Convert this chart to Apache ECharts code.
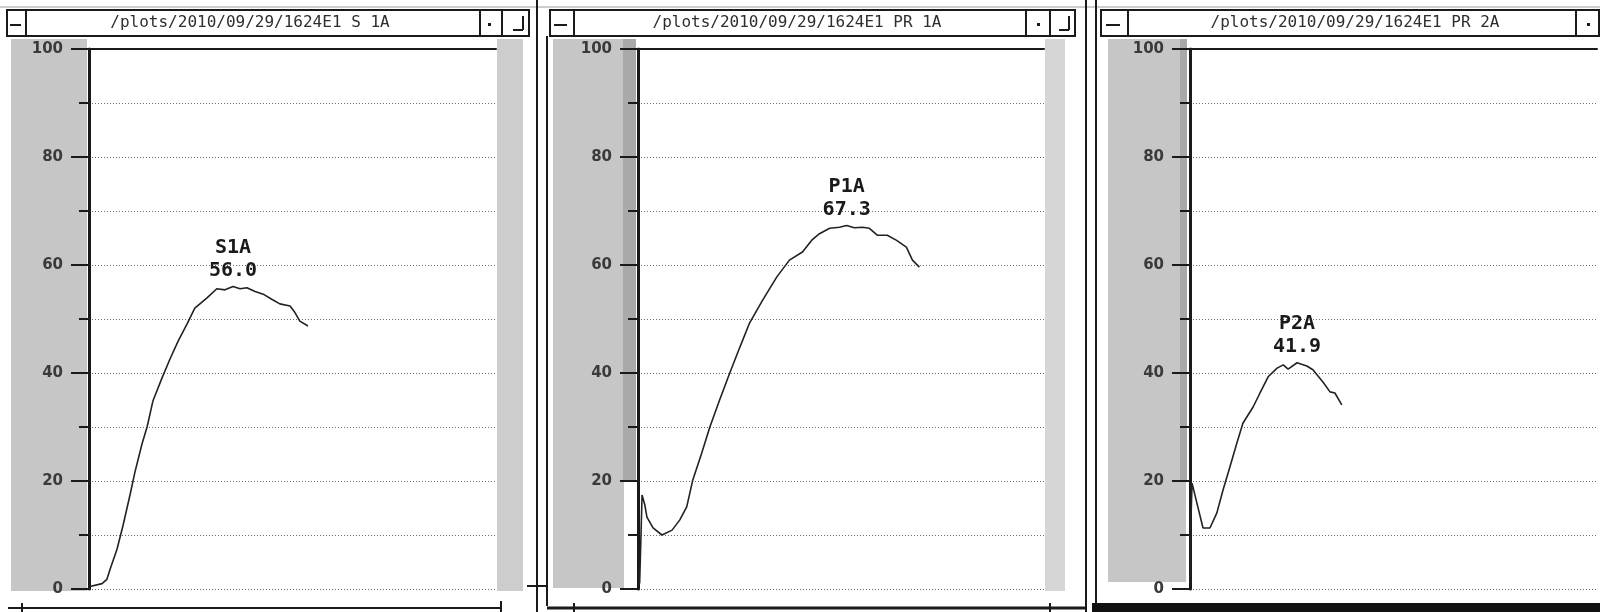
<!DOCTYPE html>
<html>
<head>
<meta charset="utf-8">
<script src="https://cdn.jsdelivr.net/npm/echarts@6/dist/echarts.min.js"></script>
<style>
html,body{margin:0;padding:0;background:#fff;}
#chart{width:1600px;height:612px;}
</style>
</head>
<body>
<div id="chart"></div>
<script>
// ---- data (x: relative sample position 0-100 across each plot, y: value 0-100) ----
const windowTitles = ['/plots/2010/09/29/1624E1 S 1A', '/plots/2010/09/29/1624E1 PR 1A', '/plots/2010/09/29/1624E1 PR 2A'];
const peakNames = ['S1A', 'P1A', 'P2A'];
const yTicks = [0, 20, 40, 60, 80, 100];

const s1aX = [0.0, 3.2, 4.4, 5.2, 6.9, 8.4, 10.1, 11.3, 13.0, 14.3, 15.7, 17.9, 19.9, 21.9, 24.1, 26.0, 29.0, 31.4, 33.4, 35.4, 37.1, 38.8, 40.8, 42.8, 45.0, 46.9, 49.4, 50.6, 51.8, 53.8];
const s1aY = [0.4, 1.0, 1.8, 3.7, 7.4, 11.9, 17.5, 21.7, 26.8, 30.1, 34.8, 39.0, 42.6, 45.9, 49.1, 52.0, 53.9, 55.6, 55.4, 56.0, 55.6, 55.8, 55.1, 54.6, 53.6, 52.8, 52.4, 51.2, 49.6, 48.7];

const p1aX = [0.4, 0.7, 1.0, 1.7, 2.2, 3.7, 5.9, 8.4, 10.3, 12.0, 13.5, 15.7, 17.7, 20.1, 22.6, 25.1, 27.5, 30.7, 34.2, 37.3, 40.5, 42.8, 44.7, 47.2, 49.6, 51.4, 53.3, 55.3, 57.0, 59.0, 61.4, 63.6, 66.1, 67.6, 69.3];
const p1aY = [1.0, 9.0, 17.4, 15.5, 13.3, 11.3, 10.0, 10.9, 12.8, 15.2, 20.2, 25.2, 30.0, 35.0, 40.0, 44.8, 49.3, 53.5, 57.8, 60.9, 62.4, 64.6, 65.8, 66.8, 67.0, 67.3, 66.9, 67.0, 66.8, 65.5, 65.5, 64.6, 63.3, 60.9, 59.6];

const p2aX = [0.0, 0.2, 0.5, 1.7, 3.2, 4.9, 6.6, 8.1, 9.8, 11.5, 13.0, 15.5, 17.2, 19.2, 21.4, 22.9, 24.1, 26.3, 28.7, 30.2, 32.7, 34.4, 35.6, 37.3];
const p2aY = [1.0, 12.0, 19.6, 15.9, 11.3, 11.3, 14.1, 18.3, 22.6, 27.0, 30.7, 33.7, 36.3, 39.3, 40.9, 41.5, 40.7, 41.9, 41.3, 40.6, 38.3, 36.5, 36.3, 34.1];

const seriesX = [s1aX, p1aX, p2aX];
const seriesY = [s1aY, p1aY, p2aY];

// ---- layout ----
const grids = [
  {left: 89, top: 49, width: 407, height: 540},
  {left: 638, top: 49, width: 406, height: 540},
  {left: 1190, top: 49, width: 407, height: 540}
];

const INK = '#1a1a1a';
const GRAYBAND = '#c6c6c6';

function ln(x1, y1, x2, y2, w, c) {
  return {type: 'line', silent: true, z: 1, shape: {x1, y1, x2, y2}, style: {stroke: c || INK, lineWidth: w || 2}};
}
function rc(x, y, w, h, fill, z) {
  return {type: 'rect', silent: true, z: z === undefined ? -1 : z, shape: {x, y, width: w, height: h}, style: {fill: fill}};
}
function frameRect(x, y, w, h, lw) {
  return {type: 'rect', silent: true, z: 1, shape: {x, y, width: w, height: h}, style: {fill: 'none', stroke: INK, lineWidth: lw || 2}};
}
function txt(x, y, s, font, color) {
  return {type: 'text', silent: true, z: 2, x: x, y: y,
    style: {text: s, font: font, fill: color || '#333', align: 'center', verticalAlign: 'middle', textAlign: 'center', textVerticalAlign: 'middle'}};
}

const graphics = [];
// title bars
const bars = [
  {x1: 7, x2: 529, seps: [26, 480, 502], title: 250, minus: [10, 21], dot: 489, corner: [513, 523]},
  {x1: 550, x2: 1075, seps: [574, 1026, 1050], title: 797, minus: [554, 567], dot: 1038, corner: [1059, 1069]},
  {x1: 1101, x2: 1599, seps: [1128, 1576], title: 1355, minus: [1106, 1120], dot: 1588, corner: null}
];
bars.forEach((b, i) => {
  graphics.push(frameRect(b.x1, 10, b.x2 - b.x1, 26, 2));
  b.seps.forEach(s => graphics.push(ln(s, 10, s, 36, 2)));
  graphics.push(ln(b.minus[0], 25, b.minus[1], 25, 2));
  graphics.push(rc(b.dot - 1, 23, 3, 3, INK, 2));
  if (b.corner) {
    graphics.push(ln(b.corner[1], 16, b.corner[1], 30, 2));
    graphics.push(ln(b.corner[0], 30, b.corner[1], 30, 2));
  }
  graphics.push(txt(b.title, 23, windowTitles[i], '16px "DejaVu Sans Mono"', '#2e2e2e'));
});
graphics.push(ln(0, 7, 1600, 7, 1, '#9a9a9a'));

// gray side bands
graphics.push(rc(11, 39, 76, 552, GRAYBAND));
graphics.push(rc(497, 39, 26, 552, '#cdcdcd'));
graphics.push(rc(553, 39, 71, 549, GRAYBAND));
graphics.push(rc(623, 39, 13, 443, '#a9a9a9'));
graphics.push(rc(1045, 39, 20, 552, '#d6d6d6'));
graphics.push(rc(1108, 39, 78, 543, GRAYBAND));
graphics.push(rc(1180, 39, 7, 443, '#a9a9a9'));

// window borders / dividers
graphics.push(ln(537, 0, 537, 612, 2));
graphics.push(ln(547, 36, 547, 606, 2));
graphics.push(ln(527, 586, 548, 586, 2));
graphics.push(ln(1086, 0, 1086, 612, 2));
graphics.push(ln(1096, 0, 1096, 612, 2));

// bottom edges
graphics.push(ln(8, 608, 501, 608, 2));
graphics.push(ln(22, 603, 22, 612, 2));
graphics.push(ln(501, 601, 501, 612, 2));
graphics.push(ln(547, 608, 1086, 608, 3));
graphics.push(ln(574, 603, 574, 612, 2));
graphics.push(ln(1050, 603, 1050, 612, 2));
graphics.push(rc(1092, 603, 508, 9, '#111', 1));

// ---- axes & series ----
const xAxes = [];
const yAxes = [];
const series = [];
grids.forEach((g, i) => {
  xAxes.push({type: 'value', gridIndex: i, min: 0, max: 100, show: true,
    axisLine: {show: false}, axisTick: {show: false}, axisLabel: {show: false}, splitLine: {show: false}});
  xAxes.push({type: 'value', gridIndex: i, min: 0, max: 100, position: 'top',
    axisLine: {show: true, lineStyle: {color: INK, width: 2}}, axisTick: {show: false}, axisLabel: {show: false}, splitLine: {show: false}});
  yAxes.push({type: 'value', gridIndex: i, min: yTicks[0], max: yTicks[yTicks.length - 1], interval: yTicks[1] - yTicks[0],
    axisLine: {show: true, onZero: false, lineStyle: {color: INK, width: 3}},
    axisTick: {show: true, length: 18, lineStyle: {color: INK, width: 2}},
    minorTick: {show: true, splitNumber: 2, length: 10, lineStyle: {color: INK, width: 2}},
    splitLine: {show: true, lineStyle: {color: '#6a6a6a', width: 1, type: [1, 2]}},
    minorSplitLine: {show: true, lineStyle: {color: '#6a6a6a', width: 1, type: [1, 2]}},
    axisLabel: {show: true, margin: 26, fontFamily: 'DejaVu Sans', fontWeight: 'bold', fontSize: 15, color: '#3a3a3a'}
  });
  series.push({
    type: 'line', xAxisIndex: i * 2, yAxisIndex: i,
    data: seriesX[i].map((x, k) => [x, seriesY[i][k]]),
    showSymbol: false, symbol: 'none', smooth: false,
    lineStyle: {color: '#222', width: 1.6},
    markPoint: {
      symbol: 'circle', symbolSize: 0, silent: true,
      data: [{type: 'max', valueDim: 'y'}],
      label: {show: true, position: 'top', distance: 4,
        formatter: p => peakNames[i] + '\n' + Number(p.value).toFixed(1),
        fontFamily: 'DejaVu Sans Mono', fontWeight: 'bold', fontSize: 20, lineHeight: 23, color: '#1a1a1a', align: 'center'}
    }
  });
});

const chart = echarts.init(document.getElementById('chart'), null, {renderer: 'canvas'});
chart.setOption({
  animation: false,
  backgroundColor: '#ffffff',
  grid: grids.map(g => Object.assign({containLabel: false}, g)),
  xAxis: xAxes,
  yAxis: yAxes,
  series: series,
  graphic: {elements: graphics}
});
</script>
</body>
</html>
